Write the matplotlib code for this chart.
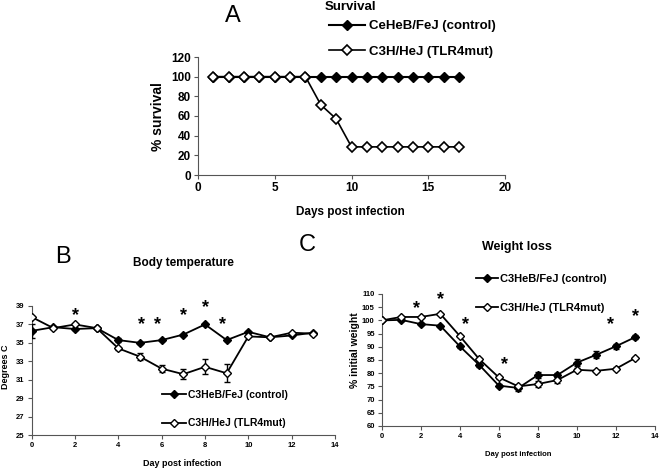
import numpy as np
import matplotlib
matplotlib.use("Agg")
import matplotlib.pyplot as plt

plt.rcParams["font.family"] = ["Liberation Sans", "DejaVu Sans"]
plt.rcParams["font.weight"] = "bold"

# Survival (panel A)
surv_days = list(range(1, 18))
surv_control = [100] * 17
surv_tlr4 = [100, 100, 100, 100, 100, 100, 100, 71.4, 57.1,
             28.6, 28.6, 28.6, 28.6, 28.6, 28.6, 28.6, 28.6]

# Body temperature (panel B)
days = list(range(0, 14))
temp_control = [36.3, 36.7, 36.5, 36.6, 35.3, 35.0, 35.3, 35.9, 37.0, 35.3, 36.2, 35.6, 35.8, 36.1]
temp_control_err = [0.8, 0.1, 0.1, 0.1, 0.2, 0.1, 0.1, 0.1, 0.1, 0.1, 0.1, 0.1, 0.1, 0.1]
temp_tlr4 = [37.8, 36.6, 37.0, 36.6, 34.4, 33.5, 32.2, 31.6, 32.4, 31.7, 35.7, 35.6, 36.1, 36.0]
temp_tlr4_err = [0.1, 0.1, 0.1, 0.1, 0.2, 0.35, 0.35, 0.55, 0.8, 1.0, 0.1, 0.1, 0.1, 0.1]
temp_star_x = [2, 5.05, 5.8, 7, 8, 8.8]
temp_star_y = [38.0, 37.0, 37.0, 38.0, 38.85, 37.0]

# Weight loss (panel C)
wt_control = [100, 100.2, 98.6, 98.0, 90.2, 83.1, 75.3, 74.4, 79.3, 79.3, 84.0, 87.0, 90.2, 93.7]
wt_control_err = [0.3, 0.3, 0.5, 0.4, 0.6, 0.6, 0.6, 1.2, 1.2, 0.8, 1.3, 1.3, 1.0, 0.7]
wt_tlr4 = [100, 101.3, 101.3, 102.5, 94.1, 85.3, 78.4, 75.0, 75.9, 77.4, 81.3, 80.9, 81.7, 85.8]
wt_tlr4_err = [0.3, 0.4, 0.4, 0.4, 0.5, 0.5, 0.5, 0.6, 1.0, 1.2, 0.6, 0.5, 0.5, 0.5]
wt_star_x = [1.8, 3, 4.3, 6.3, 11.7, 13]
wt_star_y = [104.6, 107.7, 98.6, 83.2, 98.6, 101.4]

W, H = 661, 470
fig = plt.figure(figsize=(W / 100, H / 100), dpi=100)


def box(l, t, r, b):
    return [l / W, 1 - b / H, (r - l) / W, (b - t) / H]


def style(ax, size):
    for s in ["top", "right"]:
        ax.spines[s].set_visible(False)
    ax.spines["left"].set_color("#555555")
    ax.spines["bottom"].set_color("#555555")
    ax.tick_params(labelsize=size, length=3, width=0.8, color="#555555", pad=2)
    for lab in ax.get_xticklabels() + ax.get_yticklabels():
        lab.set_fontweight("bold")


def series(ax, x, y, err, filled, ms, lw):
    ax.errorbar(x, y, yerr=err, color="black", lw=lw, marker="D", ms=ms,
                mfc="black" if filled else "white", mec="black", mew=1.0,
                capsize=2, elinewidth=1.0, zorder=3 if filled else 4)


# ---- Panel A
axA = fig.add_axes(box(198, 57, 505, 175))
axA.plot(surv_days, surv_control, color="black", lw=1.5, marker="D", ms=4.8,
         mfc="black", mec="black", label="CeHeB/FeJ (control)", zorder=3)
axA.plot(surv_days, surv_tlr4, color="black", lw=1.2, marker="D", ms=4.8,
         mfc="white", mec="black", mew=1.2, label="C3H/HeJ (TLR4mut)", zorder=4)
axA.set_xlim(0, 20)
axA.set_ylim(0, 120)
axA.set_xticks([0, 5, 10, 15, 20])
axA.set_yticks(range(0, 121, 20))
style(axA, 8.5)
axA.legend(loc="upper left", bbox_to_anchor=(329 / W, 1 - 20 / H),
           bbox_transform=fig.transFigure, frameon=False,
           handlelength=2.7, handletextpad=0.3, labelspacing=1.0,
           borderpad=0, borderaxespad=0, prop={"weight": "bold", "size": 9.5})
fig.text(350 / W, 1 - 7 / H, "Survival", ha="center", va="center", fontsize=9.5, weight="bold")
fig.text(233 / W, 1 - 16 / H, "A", ha="center", va="center", fontsize=17, weight="normal")
fig.text(350 / W, 1 - 212 / H, "Days post infection", ha="center", va="center", fontsize=8.5, weight="bold")
fig.text(158 / W, 1 - 117 / H, "% survival", ha="center", va="center", rotation=90, fontsize=10, weight="bold")

# ---- Panel B
axB = fig.add_axes(box(31.7, 306, 335, 435))
series(axB, days, temp_control, temp_control_err, True, 4.3, 1.3)
series(axB, days, temp_tlr4, temp_tlr4_err, False, 4.3, 1.3)
for sx, sy in zip(temp_star_x, temp_star_y):
    axB.text(sx, sy, "*", ha="center", va="center", fontsize=13, weight="bold")
axB.set_xlim(0, 14)
axB.set_ylim(25, 39)
axB.set_xticks(range(0, 15, 2))
axB.set_yticks(range(25, 40, 2))
style(axB, 5.5)
hB = [plt.Line2D([], [], color="black", lw=1.3, marker="D", ms=4.3, mfc=c, mec="black")
      for c in ["black", "white"]]
axB.legend(hB, ["C3HeB/FeJ (control)", "C3H/HeJ (TLR4mut)"], loc="upper left",
           bbox_to_anchor=(162 / W, 1 - 390 / H), bbox_transform=fig.transFigure,
           frameon=False, handlelength=2.3, handletextpad=0.2, labelspacing=1.75,
           borderpad=0, borderaxespad=0, prop={"weight": "bold", "size": 7.5})
fig.text(183 / W, 1 - 263 / H, "Body temperature", ha="center", va="center", fontsize=8.5, weight="bold")
fig.text(63 / W, 1 - 257 / H, "B", ha="center", va="center", fontsize=17, weight="normal")
fig.text(307 / W, 1 - 245 / H, "C", ha="center", va="center", fontsize=17, weight="normal")
fig.text(182 / W, 1 - 463 / H, "Day post infection", ha="center", va="center", fontsize=6.5, weight="bold")
fig.text(6 / W, 1 - 367 / H, "Degrees C", ha="center", va="center", rotation=90, fontsize=6.5, weight="bold")

# ---- Panel C
axC = fig.add_axes(box(381.7, 294, 655, 426))
series(axC, days, wt_control, wt_control_err, True, 4.3, 1.3)
series(axC, days, wt_tlr4, wt_tlr4_err, False, 4.3, 1.3)
for sx, sy in zip(wt_star_x, wt_star_y):
    axC.text(sx, sy, "*", ha="center", va="center", fontsize=13, weight="bold")
axC.set_xlim(0, 14)
axC.set_ylim(60, 110)
axC.set_xticks(range(0, 15, 2))
axC.set_yticks(range(60, 111, 5))
style(axC, 5.5)
hC = [plt.Line2D([], [], color="black", lw=1.3, marker="D", ms=4.3, mfc=c, mec="black")
      for c in ["black", "white"]]
axC.legend(hC, ["C3HeB/FeJ (control)", "C3H/HeJ (TLR4mut)"], loc="upper left",
           bbox_to_anchor=(476 / W, 1 - 274 / H), bbox_transform=fig.transFigure,
           frameon=False, handlelength=2.0, handletextpad=0.2, labelspacing=1.7,
           borderpad=0, borderaxespad=0, prop={"weight": "bold", "size": 8})
fig.text(517 / W, 1 - 247 / H, "Weight loss", ha="center", va="center", fontsize=9, weight="bold")
fig.text(518 / W, 1 - 454 / H, "Day post infection", ha="center", va="center", fontsize=5.5, weight="bold")
fig.text(355 / W, 1 - 350 / H, "% initial weight", ha="center", va="center", rotation=90, fontsize=7.5, weight="bold")

fig.savefig("out.png", dpi=100)
